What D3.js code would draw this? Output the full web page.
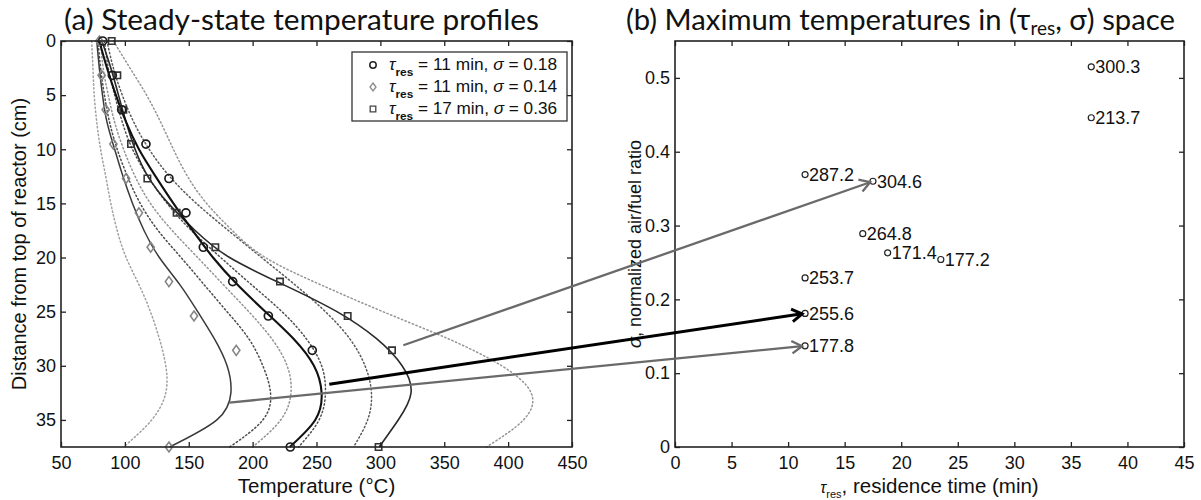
<!DOCTYPE html>
<html><head><meta charset="utf-8">
<script src="https://cdn.jsdelivr.net/npm/d3@7"></script>
<style>body{margin:0;background:#fff}svg{display:block}</style>
</head><body>
<svg id="chart" width="1201" height="500"></svg>
<script>
// ---------- DATA ----------
// (a) measured temperature profiles
const depthMeas = [0, 3.175, 6.35, 9.525, 12.7, 15.875, 19.05, 22.225, 25.4, 28.575, 37.5];
const tempCircle  = [82.6, 90.2, 97.5, 116.5, 134.5, 147.8, 161.4, 184.4, 212.3, 246.7, 229.5];
const tempDiamond = [80, 81.8, 85, 91, 100.9, 111, 120.2, 134.5, 154.1, 187.2, 134.5];
const tempSquare  = [89.7, 94.1, 98.8, 104.8, 117.6, 140.5, 170.8, 221.4, 274.4, 309.1, 298.6];
// model profiles on a depth grid
const depthGrid = [0, 2.5, 5, 7.5, 10, 12.5, 15, 17.5, 20, 22.5, 25, 27.5, 30, 32.5, 35, 37.5];
const fitDiamond = [78, 80, 82.5, 86, 92, 98.5, 106, 115, 127, 143, 157, 170, 180, 183, 172, 135];
const fitCircle  = [80, 86, 93, 101, 111, 124, 138, 153, 169, 188, 210, 232, 248, 254, 249, 229];
const fitSquare  = [82, 89, 95, 101, 108, 118, 134, 155, 182, 224, 266, 297, 317, 324, 314, 299];
const dotA = [74, 75, 76, 78, 81, 85, 89, 94, 101, 111, 120, 127, 132, 132, 121, 99];
const dotB = [79, 81, 84, 88, 94, 102, 112, 126, 144, 162, 180, 197, 208, 214, 208, 182];
const dotC = [81, 83, 87, 92, 99, 108, 120, 137, 157, 177, 197, 215, 227, 230, 222, 200];
const dotD = [84, 87, 92, 98, 106, 118, 133, 152, 175, 199, 223, 242, 254, 257, 252, 236];
const dotE = [86, 91, 98, 107, 119, 135, 156, 181, 207, 233, 257, 276, 288, 293, 290, 279];
const dotF = [91, 104, 117, 128, 138, 149, 164, 184, 210, 253, 302, 353, 395, 418, 412, 383];
const xTicksA = [50, 100, 150, 200, 250, 300, 350, 400, 450];
const yTicksA = [0, 5, 10, 15, 20, 25, 30, 35];
const legendTau   = ["11", "11", "17"];
const legendSigma = ["0.18", "0.14", "0.36"];
// (b) maximum temperatures
const tauRes   = [36.8, 36.8, 11.5, 17.5, 16.6, 18.8, 23.5, 11.5, 11.5, 11.5];
const sigmaVal = [0.515, 0.446, 0.369, 0.360, 0.289, 0.263, 0.254, 0.229, 0.181, 0.137];
const maxTemp  = ["300.3", "213.7", "287.2", "304.6", "264.8", "171.4", "177.2", "253.7", "255.6", "177.8"];
const xTicksB = [0, 5, 10, 15, 20, 25, 30, 35, 40, 45];
const yTicksB = [0, 0.1, 0.2, 0.3, 0.4, 0.5];
const yTickLabelsB = ["0", "0.1", "0.2", "0.3", "0.4", "0.5"];
// arrows: start (temperature, depth) in (a) -> end point index in (b)
const arrowStartT = [318, 260, 181.8];
const arrowStartD = [28.1, 31.7, 33.4];
const arrowTarget = [3, 8, 9];

// ---------- LAYOUT / STYLE ----------
const FONT = "'Liberation Sans', Arial, Helvetica, sans-serif";
const svg = d3.select("#chart");
const xA = d3.scaleLinear().domain([50, 450]).range([61, 572]);
const yA = d3.scaleLinear().domain([0, 37.5]).range([41, 447]);
const xB = d3.scaleLinear().domain([0, 45]).range([675, 1184]);
const yB = d3.scaleLinear().domain([0, 0.55]).range([447, 41]);

function frameAxes(x, y, xt, yt, xfmt, yfmt) {
  const [x0, x1] = x.range();
  const yb = Math.max(...y.range()), yt0 = Math.min(...y.range());
  const g = svg.append("g").attr("font-family", FONT);
  const bottom = g.append("g").attr("transform", `translate(0,${yb})`)
    .call(d3.axisBottom(x).tickValues(xt).tickSize(-5).tickSizeOuter(0).tickPadding(9).tickFormat(xfmt));
  const top = g.append("g").attr("transform", `translate(0,${yt0})`)
    .call(d3.axisTop(x).tickValues(xt).tickSize(-5).tickSizeOuter(0).tickFormat(""));
  const left = g.append("g").attr("transform", `translate(${x0},0)`)
    .call(d3.axisLeft(y).tickValues(yt).tickSize(-5).tickSizeOuter(0).tickPadding(5).tickFormat(yfmt));
  const right = g.append("g").attr("transform", `translate(${x1},0)`)
    .call(d3.axisRight(y).tickValues(yt).tickSize(-5).tickSizeOuter(0).tickFormat(""));
  [bottom, top, left, right].forEach(a => {
    a.select(".domain").remove();
    a.selectAll("line").attr("stroke", "#222").attr("stroke-width", 1.3);
    a.selectAll("text").attr("font-size", 18).attr("fill", "#111").attr("font-family", FONT);
  });
  g.append("rect").attr("x", x0).attr("y", yt0).attr("width", x1 - x0).attr("height", yb - yt0)
    .attr("fill", "none").attr("stroke", "#222").attr("stroke-width", 1.6);
}

// ---------- PANEL (a) ----------
const lineA = d3.line().x(d => xA(d[0])).y(d => yA(d[1])).curve(d3.curveNatural);
const dotted = [
  {v: dotA, c: "#a0a0a0"}, {v: dotB, c: "#4a4a4a"}, {v: dotC, c: "#939393"},
  {v: dotD, c: "#505050"}, {v: dotE, c: "#5a5a5a"}, {v: dotF, c: "#959595"}
];
const gA = svg.append("g");
dotted.forEach(s => {
  gA.append("path").attr("d", lineA(s.v.map((t, i) => [t, depthGrid[i]])))
    .attr("fill", "none").attr("stroke", s.c).attr("stroke-width", 1.5)
    .attr("stroke-dasharray", "1.3,2.6").attr("stroke-linecap", "round");
});
const fits = [
  {v: fitDiamond, c: "#3a3a3a", w: 1.5}, {v: fitSquare, c: "#2a2a2a", w: 1.6}, {v: fitCircle, c: "#111", w: 2.1}
];
fits.forEach(s => {
  gA.append("path").attr("d", lineA(s.v.map((t, i) => [t, depthGrid[i]])))
    .attr("fill", "none").attr("stroke", s.c).attr("stroke-width", s.w);
});
const diamondPath = "M0,-5L3.6,0L0,5L-3.6,0Z";
const squarePath = "M-3.2,-3.2H3.2V3.2H-3.2Z";
function markers(temps, kind, color) {
  temps.forEach((t, i) => {
    const cx = xA(t), cy = yA(depthMeas[i]);
    if (kind === "circle") gA.append("circle").attr("cx", cx).attr("cy", cy).attr("r", 4)
      .attr("fill", "none").attr("stroke", color).attr("stroke-width", 1.7);
    else gA.append("path").attr("d", kind === "diamond" ? diamondPath : squarePath)
      .attr("transform", `translate(${cx},${cy})`).attr("fill", "none")
      .attr("stroke", color).attr("stroke-width", 1.6);
  });
}
markers(tempDiamond, "diamond", "#858585");
markers(tempSquare, "square", "#333");
markers(tempCircle, "circle", "#1a1a1a");

frameAxes(xA, yA, xTicksA, yTicksA, d => d, d => d);

// legend
const lg = svg.append("g").attr("font-family", FONT);
lg.append("rect").attr("x", 352).attr("y", 52).attr("width", 215).attr("height", 69)
  .attr("fill", "#fff").attr("stroke", "#333").attr("stroke-width", 1.3);
const kinds = ["circle", "diamond", "square"];
const kcol = ["#222", "#8a8a8a", "#444"];
legendTau.forEach((tau, i) => {
  const cy = 65 + i * 22;
  if (kinds[i] === "circle") lg.append("circle").attr("cx", 373).attr("cy", cy).attr("r", 3.2)
    .attr("fill", "none").attr("stroke", kcol[i]).attr("stroke-width", 1.5);
  else lg.append("path").attr("d", kinds[i] === "diamond" ? "M0,-4L3,0L0,4L-3,0Z" : "M-2.8,-2.8H2.8V2.8H-2.8Z")
    .attr("transform", `translate(373,${cy})`).attr("fill", "none").attr("stroke", kcol[i]).attr("stroke-width", 1.3);
  const t = lg.append("text").attr("x", 389).attr("y", cy + 5).attr("font-size", 16).attr("fill", "#111");
  t.append("tspan").attr("font-style", "italic").text("τ");
  t.append("tspan").attr("font-size", 11).attr("font-weight", "bold").attr("dy", 6).text("res");
  t.append("tspan").attr("dy", -6).text(` = ${tau} min, `);
  t.append("tspan").attr("font-style", "italic").text("σ");
  t.append("tspan").text(` = ${legendSigma[i]}`);
  t.attr("textLength", 168).attr("lengthAdjust", "spacingAndGlyphs");
});

// axis titles (a)
svg.append("text").attr("x", (xA.range()[0] + xA.range()[1]) / 2).attr("y", 493)
  .attr("text-anchor", "middle").attr("font-family", FONT).attr("font-size", 20.5).attr("fill", "#111")
  .text("Temperature (°C)");
svg.append("text").attr("transform", `translate(26,${(yA.range()[0] + yA.range()[1]) / 2}) rotate(-90)`)
  .attr("text-anchor", "middle").attr("font-family", FONT).attr("font-size", 20).attr("fill", "#111")
  .text("Distance from top of reactor (cm)");

// ---------- PANEL (b) ----------
frameAxes(xB, yB, xTicksB, yTicksB, d => d, (d, i) => yTickLabelsB[i]);
const gB = svg.append("g").attr("font-family", FONT);
tauRes.forEach((tau, i) => {
  const cx = xB(tau), cy = yB(sigmaVal[i]);
  gB.append("circle").attr("cx", cx).attr("cy", cy).attr("r", 3)
    .attr("fill", "#fff").attr("stroke", "#222").attr("stroke-width", 1.2);
  gB.append("text").attr("x", cx + 4).attr("y", cy).attr("dy", "0.36em")
    .attr("font-size", 18).attr("fill", "#111").text(maxTemp[i]);
});
const xt = svg.append("text").attr("x", (xB.range()[0] + xB.range()[1]) / 2).attr("y", 493)
  .attr("text-anchor", "middle").attr("font-family", FONT).attr("font-size", 20.5).attr("fill", "#111");
xt.append("tspan").attr("font-style", "italic").attr("font-size", 16).text("τ");
xt.append("tspan").attr("font-size", 11).attr("dy", 5).text("res");
xt.append("tspan").attr("dy", -5).text(", residence time (min)");
const yt = svg.append("text").attr("transform", `translate(641,${(yB.range()[0] + yB.range()[1]) / 2}) rotate(-90)`)
  .attr("text-anchor", "middle").attr("font-family", FONT).attr("font-size", 18).attr("fill", "#111");
yt.append("tspan").attr("font-style", "italic").text("σ");
yt.append("tspan").text(", normalized air/fuel ratio");

// ---------- TITLES ----------
function title(x, y, target, build) {
  const t = svg.append("text").attr("x", x).attr("y", y).attr("font-family", "Lato, 'Open Sans', sans-serif")
    .attr("font-size", 24).attr("fill", "#111");
  build(t);
  const w = t.node().getComputedTextLength();
  t.attr("font-size", 24 * target / w);
}
title(64, 30, 475, t => t.text("(a) Steady-state temperature profiles"));
title(626, 30, 549, t => {
  t.append("tspan").text("(b) Maximum temperatures in (τ");
  t.append("tspan").attr("font-size", "0.65em").attr("dy", 5).text("res");
  t.append("tspan").attr("dy", -5).text(", σ) space");
});

// ---------- ARROWS ----------
const ga = svg.append("g");
const arrowStyle = [{c: "#6a6a6a", w: 2.3}, {c: "#000", w: 3}, {c: "#6a6a6a", w: 2.3}];
arrowStartT.forEach((T, i) => {
  const x0 = xA(T), y0 = yA(arrowStartD[i]);
  const j = arrowTarget[i];
  const cx = xB(tauRes[j]), cy = yB(sigmaVal[j]);
  const a = Math.atan2(cy - y0, cx - x0);
  const x1 = cx - 3 * Math.cos(a), y1 = cy - 3 * Math.sin(a);
  const s = arrowStyle[i];
  ga.append("line").attr("x1", x0).attr("y1", y0).attr("x2", x1).attr("y2", y1)
    .attr("stroke", s.c).attr("stroke-width", s.w);
  const L = 12, th = 0.55;
  ga.append("path").attr("d",
    `M${x1 - L * Math.cos(a - th)},${y1 - L * Math.sin(a - th)}L${x1},${y1}L${x1 - L * Math.cos(a + th)},${y1 - L * Math.sin(a + th)}`)
    .attr("fill", "none").attr("stroke", s.c).attr("stroke-width", s.w).attr("stroke-linejoin", "miter");
});
</script>
</body></html>
